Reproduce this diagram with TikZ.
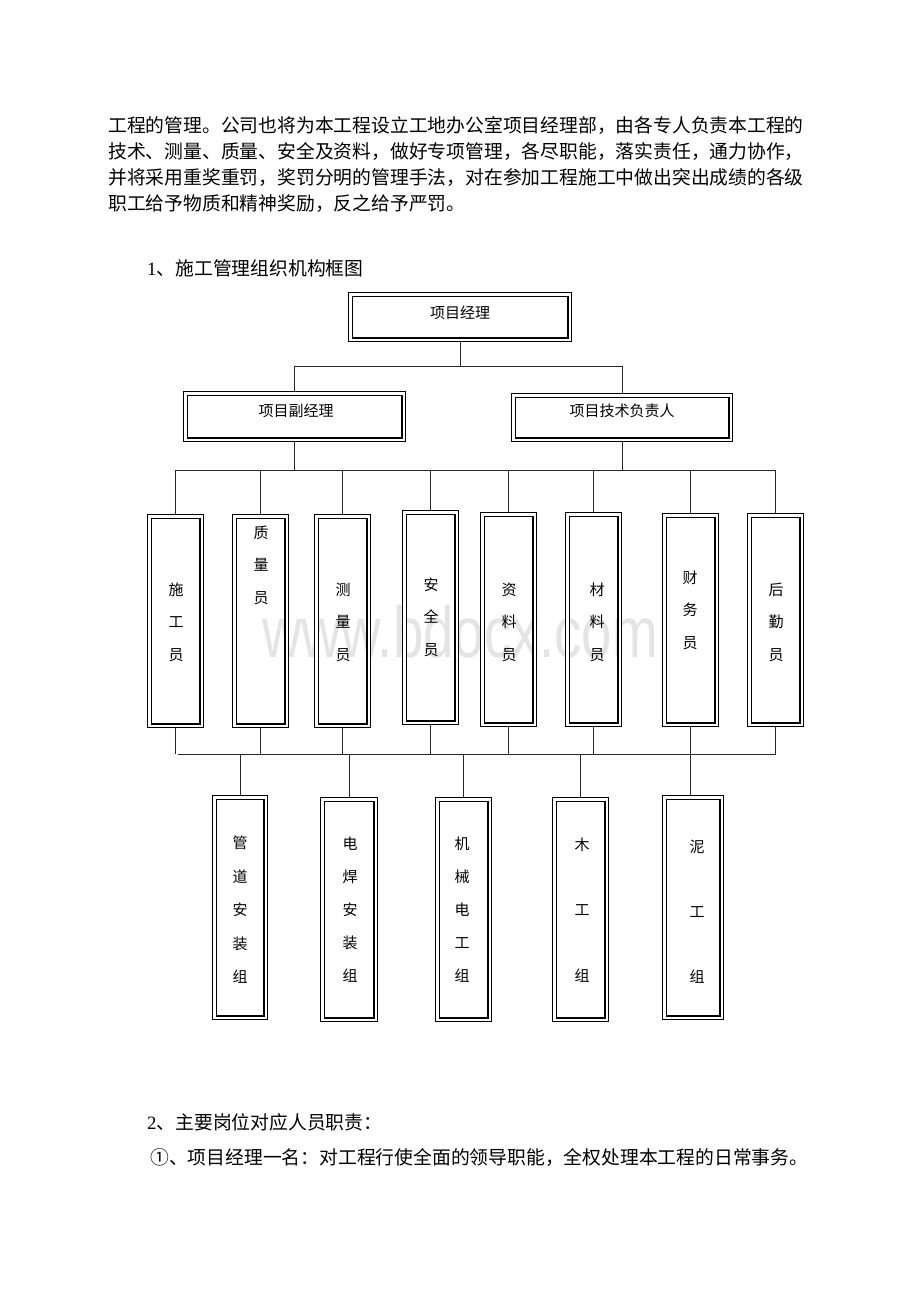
\documentclass[tikz,border=0pt]{standalone}
\usepackage{fontspec}
\setmainfont{Liberation Serif}
\newfontfamily\cjk{Noto Sans CJK SC}
\newfontfamily\wmfont{Liberation Sans}
\definecolor{wmgray}{HTML}{E4E4E4}
\newcommand\dblbox[5]{%
  \node[dbox, minimum width={(#4-#2-4.6)*1pt}, minimum height={(#5-#3-4.6)*1pt}] (#1) at ({(#2+#4)/2},{(#3+#5)/2}) {};}
\tikzset{
  dbox/.style={draw=black, double=white, line width=1.1pt, double distance=2.4pt, inner sep=0pt, outer sep=2.3pt},
  body/.style={anchor=west, inner sep=0pt, font=\cjk\fontsize{18.8}{26}\selectfont},
  htext/.style={inner sep=0pt, font=\cjk\fontsize{15}{18}\selectfont},
  vt/.style={inner sep=0pt, align=center, font=\cjk\fontsize{15}{#1}\selectfont},
  vt/.default=32.5,
  conn/.style={line width=0.8pt, black!85}
}
\begin{document}
\begin{tikzpicture}[x=1pt,y=-1pt]
\useasboundingbox (0,0) rectangle (920,1302);
\fill[white] (0,0) rectangle (920,1302);
% watermark
\node[inner sep=0pt, anchor=base, text=wmgray, font=\wmfont\fontsize{72}{72}\selectfont, xscale=0.76] (wm) at (460,657) {www.bdocx.com};
% paragraph
\node[body] (p1) at (108,126) {工程的管理。公司也将为本工程设立工地办公室项目经理部，由各专人负责本工程的};
\node[body] (p2) at (108,152) {技术、测量、质量、安全及资料，做好专项管理，各尽职能，落实责任，通力协作，};
\node[body] (p3) at (108,178) {并将采用重奖重罚，奖罚分明的管理手法，对在参加工程施工中做出突出成绩的各级};
\node[body] (p4) at (108,204) {职工给予物质和精神奖励，反之给予严罚。};
\node[body] (h1) at (147,268) {\rmfamily 1\cjk 、施工管理组织机构框图};
% top boxes
\dblbox{top}{348}{292}{572}{342}
\node[htext] (ttop) at (460,313) {项目经理};
\dblbox{sub1}{183}{391}{406}{442}
\node[htext] (tsub1) at (296,411) {项目副经理};
\dblbox{sub2}{511}{393}{733}{442}
\node[htext] (tsub2) at (622,411) {项目技术负责人};
% row 2
\dblbox{r1}{147}{514}{204}{728}
\dblbox{r2}{232}{514}{289}{728}
\dblbox{r3}{314}{514}{371}{728}
\dblbox{r4}{402}{510}{459}{725}
\dblbox{r5}{480}{512}{537}{727}
\dblbox{r6}{565}{512}{622}{727}
\dblbox{r7}{662}{513}{719}{727}
\dblbox{r8}{747}{513}{804}{727}
\node[vt] (tr1) at (176,622) {施\\工\\员};
\node[vt] (tr2) at (261,565) {质\\量\\员};
\node[vt] (tr3) at (343,622) {测\\量\\员};
\node[vt] (tr4) at (431,617) {安\\全\\员};
\node[vt] (tr5) at (509,622) {资\\料\\员};
\node[vt] (tr6) at (597,622) {材\\料\\员};
\node[vt] (tr7) at (690,610) {财\\务\\员};
\node[vt] (tr8) at (776,622) {后\\勤\\员};
% row 3
\dblbox{g1}{212}{795}{268}{1020}
\dblbox{g2}{320}{797}{378}{1022}
\dblbox{g3}{435}{797}{492}{1022}
\dblbox{g4}{552}{797}{609}{1022}
\dblbox{g5}{662}{795}{724}{1020}
\node[vt=33.5] (tg1) at (240,910) {管\\道\\安\\装\\组};
\node[vt=33] (tg2) at (350,910) {电\\焊\\安\\装\\组};
\node[vt=33] (tg3) at (462,910) {机\\械\\电\\工\\组};
\node[vt=65.5] (tg4) at (582,910) {木\\工\\组};
\node[vt=65] (tg5) at (697,912) {泥\\工\\组};
% connectors level 1
\coordinate (busA) at (0,366);
\coordinate (busB) at (0,470);
\coordinate (busC) at (0,754);
\draw[conn] (top.south) -- (top.south |- busA);
\draw[conn] (sub1.north |- busA) -- (sub2.north |- busA);
\draw[conn] (sub1.north |- busA) -- (sub1.north);
\draw[conn] (sub2.north |- busA) -- (sub2.north);
% level 2
\draw[conn] (sub1.south) -- (sub1.south |- busB);
\draw[conn] (sub2.south) -- (sub2.south |- busB);
\draw[conn] (r1.north |- busB) -- (r8.north |- busB);
\foreach \n in {r1,r2,r3,r4,r5,r6,r7,r8}{
  \draw[conn] (\n.north |- busB) -- (\n.north);
}
% level 3
\draw[conn] ([xshift=2pt]r1.south |- busC) -- (r8.south |- busC);
\foreach \n in {r1,r2,r3,r4,r5,r6,r7,r8}{
  \draw[conn] (\n.south) -- (\n.south |- busC);
}
\foreach \n in {g1,g2,g3,g4}{
  \draw[conn] (\n.north |- busC) -- (\n.north);
}
\draw[conn] (r7.south |- busC) -- (r7.south |- g5.north);
% lower text
\node[body] (h2) at (147,1122) {\rmfamily 2\cjk 、主要岗位对应人员职责：};
\node[body] (l1) at (150,1157) {①、项目经理一名：对工程行使全面的领导职能，全权处理本工程的日常事务。};
\end{tikzpicture}
\end{document}
